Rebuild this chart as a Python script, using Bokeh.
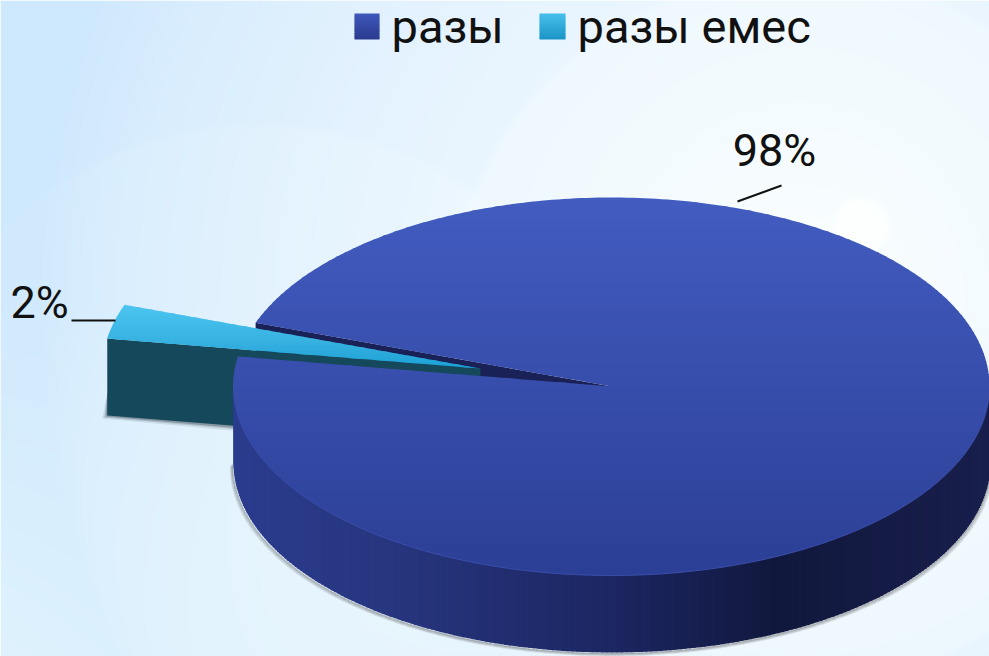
import numpy as np
from bokeh.embed import file_html
from bokeh.models import Range1d
from bokeh.plotting import figure
from bokeh.resources import INLINE
from bokeh.core.properties import value

# Chart content
categories = ["разы", "разы емес"]
shares = [98, 2]
share_labels = ["98%", "2%"]

W, H = 989, 656

# Pie geometry in page pixels
CX, CY = 611.0, 386.0
RX, RY = 378.0, 189.0
DEPTH = 77.0
SEAM_DEG = 14.4            # middle of the small slice, above due west
OBLIQUE_STRETCH = 0.47     # widening of arcs around the seam from the oblique camera
EXPLODE_DX, EXPLODE_DY = -131.0, -18.0


def hexmix(a, b, t):
    ca = np.array([int(a[i:i + 2], 16) for i in (1, 3, 5)], float)
    cb = np.array([int(b[i:i + 2], 16) for i in (1, 3, 5)], float)
    c = ca + (cb - ca) * t
    return "#%02x%02x%02x" % tuple(int(round(v)) for v in c)


def ramp(stops, t):
    for (t0, c0), (t1, c1) in zip(stops, stops[1:]):
        if t <= t1:
            return hexmix(c0, c1, (t - t0) / (t1 - t0))
    return stops[-1][1]


def rim(cx, cy, deg_above_west):
    a = np.radians(deg_above_west)
    return cx - RX * np.cos(a), cy - RY * np.sin(a)


def clip_band(xs, ys, y0, y1):
    """Clip a polygon to the horizontal band y0..y1."""
    def clip(px, py, limit, keep_above):
        ox, oy = [], []
        n = len(px)
        for i in range(n):
            x0, v0, x1, v1 = px[i], py[i], px[(i + 1) % n], py[(i + 1) % n]
            in0 = v0 <= limit if keep_above else v0 >= limit
            in1 = v1 <= limit if keep_above else v1 >= limit
            if in0:
                ox.append(x0); oy.append(v0)
            if in0 != in1:
                f = (limit - v0) / (v1 - v0)
                ox.append(x0 + (x1 - x0) * f); oy.append(limit)
        return ox, oy
    px, py = clip(list(xs), list(ys), y1, True)
    if px:
        px, py = clip(px, py, y0, False)
    return px, py


def banded(p, xs, ys, stops, y_top, y_bot, n=70):
    """Fill a polygon with a vertical colour ramp drawn as thin clipped patches."""
    bx, by, col = [], [], []
    edges = np.linspace(y_top, y_bot, n + 1)
    for i in range(n):
        cx_, cy_ = clip_band(xs, ys, edges[i], edges[i + 1] + (1.0 if i < n - 1 else 0))
        if len(cx_) >= 3:
            bx.append(cx_); by.append(cy_)
            col.append(ramp(stops, (i + 0.5) / n))
    p.patches(bx, by, fill_color=col, line_color=None)


# Seam edges derived from the shares
small_sweep = np.radians(360.0 * shares[1] / sum(shares))
half = small_sweep / 2 + OBLIQUE_STRETCH * np.sin(small_sweep / 2)
up_deg = SEAM_DEG + np.degrees(half)
lo_deg = SEAM_DEG - np.degrees(half)

p = figure(width=W, height=H, x_range=Range1d(0, W), y_range=Range1d(H, 0),
           toolbar_location=None, output_backend="svg", min_border=0,
           outline_line_color=None)
p.axis.visible = False
p.grid.visible = False

# Backdrop: pale blue wash brightening to the upper right, with soft round glows
yy, xx = np.mgrid[0:H, 0:W]
d = np.hypot(xx - 800, (yy - 300) * 0.95)
glow = np.clip(1 - d / 760, 0, 1) ** 0.65
r = 206 + (247 - 206) * glow
g = 232 + (252 - 232) * glow
b = 253 + (255 - 253) * glow
for (gx, gy, gr, gain) in [(800, 330, 360, 4), (860, 225, 32, 5), (260, 500, 380, 3)]:
    m = np.clip((gr - np.hypot(xx - gx, yy - gy)) / 8, 0, 1) * gain
    r, g = r + m, g + m * 0.6
low = np.clip((yy - 300) / 356, 0, 1) * np.clip(1 - xx / 500, 0, 1) * 14
r, g = r + low, g + low * 0.6
img = np.zeros((H, W), dtype=np.uint32)
view = img.view(dtype=np.uint8).reshape((H, W, 4))
view[..., 0] = np.clip(r, 0, 255)
view[..., 1] = np.clip(g, 0, 255)
view[..., 2] = np.clip(b, 0, 255)
view[..., 3] = 255
p.image_rgba(image=[img], x=0, y=0, dw=W, dh=H)

# Rim points of the pie
ex, ey = CX + EXPLODE_DX, CY + EXPLODE_DY
ux, uy = rim(CX, CY, up_deg)
eux, euy = rim(ex, ey, up_deg)
elx, ely = rim(ex, ey, lo_deg)

# Soft shadow under the pulled-out slice, tapering up its left side
slope = (ey - ely) / (ex - elx)
for off, alpha in [(5, 0.10), (3, 0.18), (1.5, 0.28)]:
    p.patch([elx, 300, 300, elx - off],
            [ely + DEPTH - 22, ely + DEPTH + slope * (300 - elx) - 10,
             ely + DEPTH + slope * (300 - elx) + off + 1, ely + DEPTH + off * 0.6],
            fill_color="#20303a", fill_alpha=alpha, line_color=None)

# Inner wall of the large slice seen through the seam
p.patch([CX, ux, ux, CX], [CY, uy, uy + DEPTH, CY + DEPTH],
        fill_color="#1a2156", line_color=None)

# Pulled-out slice: cut face and rim wall, then its top
p.patch([elx, ex, ex, elx], [ely, ey, ey + DEPTH, ely + DEPTH],
        fill_color="#15485a", line_color=None)
arc = np.linspace(np.radians(up_deg), np.radians(lo_deg), 24)
ax_ = list(ex - RX * np.cos(arc))
ay_ = list(ey - RY * np.sin(arc))
banded(p, [ex] + ax_, [ey] + ay_,
       [(0, "#4cc6f0"), (0.6, "#36b0e0"), (1, "#1aa0d4")], min(ay_), ey, n=30)

# Soft grey edge below the side wall of the large slice
ang = np.radians(np.linspace(180, 360, 300))
for off, alpha in [(3, 0.12), (2, 0.22), (1, 0.32)]:
    p.line(CX - (RX + off) * np.cos(ang), CY - RY * np.sin(ang) + DEPTH + off,
           line_color="#333333", line_alpha=alpha, line_width=1.5)

# Side wall of the large slice, shaded left to right; drawn as narrow overlapping strips
wall_stops = [(0, "#2b3c8e"), (0.2, "#27367f"), (0.5, "#1c2662"), (0.72, "#11183d"), (1, "#191f4c")]
theta = np.radians(np.linspace(0, -180, 241))
sx, sy, sc = [], [], []
for t0, t1 in zip(theta[:-1], theta[1:]):
    xa, xb = CX - RX * np.cos(t0), CX - RX * np.cos(t1)
    ya, yb = CY - RY * np.sin(t0), CY - RY * np.sin(t1)
    over = min(xb + 1.0, CX + RX)
    sx.append([xa, over, over, xa])
    sy.append([ya - 3, yb - 3, yb + DEPTH, ya + DEPTH])
    sc.append(ramp(wall_stops, ((xa + xb) / 2 - (CX - RX)) / (2 * RX)))
p.patches(sx, sy, fill_color=sc, line_color=None)

# Top of the large slice
big_arc = np.radians(np.linspace(up_deg, 360 + lo_deg, 400))
tx = [CX] + list(CX - RX * np.cos(big_arc))
ty = [CY] + list(CY - RY * np.sin(big_arc))
banded(p, tx, ty, [(0, "#425cc0"), (1, "#2c3f96")], CY - RY, CY + RY, n=90)
rim_t = np.radians(np.linspace(180, 360 + lo_deg, 300))
p.line(CX - RX * np.cos(rim_t), CY - RY * np.sin(rim_t), line_color="#3a4eab", line_width=1)

# Leader lines and value labels
p.line([737, 781], [201, 185], line_color="#111111", line_width=2)
p.line([71, 115], [320, 320], line_color="#111111", line_width=2)
FONT = value("Roboto")
p.text(x=[774], y=[150], text=[share_labels[0]], text_font=FONT, text_font_size="45px",
       text_align="center", text_baseline="alphabetic", text_color="#111111")
p.text(x=[39], y=[302], text=[share_labels[1]], text_font=FONT, text_font_size="45px",
       text_align="center", text_baseline="alphabetic", text_color="#111111")

# Legend
swatches = [(354, 379, [(0, "#3f58bc"), (1, "#2a3b8e")]),
            (539, 565, [(0, "#48c0ec"), (1, "#1a94c6")])]
for (x0, x1, stops), name, tx0 in zip(swatches, categories, [391, 577]):
    banded(p, [x0, x1, x1, x0], [13, 13, 39, 39], stops, 13, 39, n=12)
    p.text(x=[tx0], y=[26], text=[name], text_font=FONT, text_font_size="47px",
           text_align="left", text_baseline="alphabetic", text_color="#111111")

open("out.html", "w").write(file_html(p, INLINE))
